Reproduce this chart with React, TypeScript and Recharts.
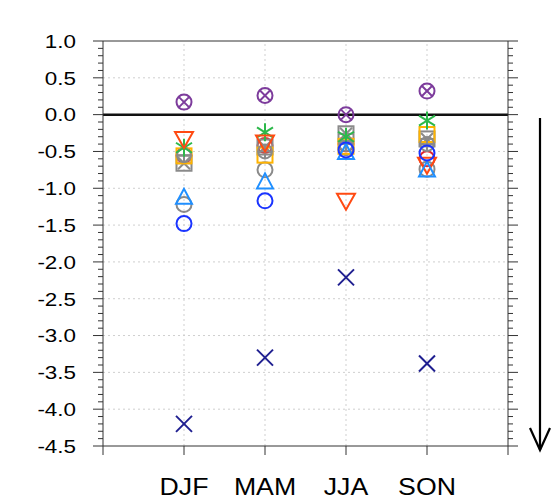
import React from "react";
import { ScatterChart, Scatter, XAxis, YAxis, ReferenceLine } from "recharts";

const seasons = ["DJF", "MAM", "JJA", "SON"];
const xTicks = [0, 1, 2, 3, 4, 5];
const yTicks = Array.from({ length: 56 }, (_, i) => Math.round((-4.5 + i * 0.1) * 10) / 10);
const gridY = [-4.0, -3.5, -3.0, -2.5, -2.0, -1.5, -1.0, -0.5, 0.5];
const gridX = [1, 2, 3, 4];

// values per season: DJF, MAM, JJA, SON
const redCircle = [-0.55, -0.42, -0.4, -0.6];
const graySquare = [-0.66, -0.44, -0.26, -0.33];
const grayCircle = [-1.22, -0.75, -0.45, -0.74];
const orangeSquare = [-0.56, -0.55, -0.43, -0.27];
const grayPlus = [-0.55, -0.5, -0.4, -0.4];
const greenStar = [-0.45, -0.24, -0.3, -0.08];
const triDown = [-0.33, -0.38, -1.17, -0.68];
const triUp = [-1.13, -0.92, -0.52, -0.76];
const blueCircle = [-1.48, -1.17, -0.48, -0.52];
const navyCross = [-4.2, -3.3, -2.21, -3.38];
const purpleCircleX = [0.17, 0.26, 0.0, 0.32];

const FONT = "'Liberation Sans', Arial, sans-serif";

const toPoints = (vals: number[]) => vals.map((v, i) => ({ x: i + 1, y: v }));

const isMajor = (v: number) => Math.abs(v * 2 - Math.round(v * 2)) < 1e-6;

const LeftTick = (props: any) => {
  const { x, y, payload } = props;
  const v = payload.value;
  const major = isMajor(v);
  return (
    <g>
      <line x1={x} x2={x - (major ? 10 : 5)} y1={y} y2={y} stroke="#333" strokeWidth={1} />
      {major && (
        <text
          transform={`translate(${x - 27},${y}) scale(1.18,1)`}
          textAnchor="end"
          dominantBaseline="central"
          fontSize={19}
          fontFamily={FONT}
          fill="#000"
        >
          {v.toFixed(1)}
        </text>
      )}
    </g>
  );
};

const RightTick = (props: any) => {
  const { x, y, payload } = props;
  const major = isMajor(payload.value);
  return <line x1={x} x2={x + (major ? 10 : 5)} y1={y} y2={y} stroke="#333" strokeWidth={1} />;
};

const BottomTick = (props: any) => {
  const { x, y, payload } = props;
  const label = seasons[payload.value - 1] ?? "";
  return (
    <g>
      <line x1={x} x2={x} y1={y} y2={y + 9} stroke="#333" strokeWidth={1} />
      <text
        transform={`translate(${x},${y + 49}) scale(1.16,1)`}
        textAnchor="middle"
        fontSize={23}
        fontFamily={FONT}
        fill="#000"
      >
        {label}
      </text>
    </g>
  );
};

const circle = (color: string) => (p: any) => (
  <circle cx={p.cx} cy={p.cy} r={7.5} fill="none" stroke={color} strokeWidth={2} />
);

const circleX = (color: string) => (p: any) => (
  <g stroke={color} strokeWidth={2} fill="none">
    <circle cx={p.cx} cy={p.cy} r={7.5} />
    <line x1={p.cx - 5} y1={p.cy - 5} x2={p.cx + 5} y2={p.cy + 5} />
    <line x1={p.cx - 5} y1={p.cy + 5} x2={p.cx + 5} y2={p.cy - 5} />
  </g>
);

const circlePlus = (color: string) => (p: any) => (
  <g stroke={color} strokeWidth={2} fill="none">
    <circle cx={p.cx} cy={p.cy} r={7} />
    <line x1={p.cx - 7} y1={p.cy} x2={p.cx + 7} y2={p.cy} />
    <line x1={p.cx} y1={p.cy - 7} x2={p.cx} y2={p.cy + 7} />
  </g>
);

const square = (color: string) => (p: any) => (
  <rect x={p.cx - 7.5} y={p.cy - 7.5} width={15} height={15} fill="none" stroke={color} strokeWidth={2} />
);

const squareX = (color: string) => (p: any) => (
  <g stroke={color} strokeWidth={2} fill="none">
    <rect x={p.cx - 7.5} y={p.cy - 7.5} width={15} height={15} />
    <line x1={p.cx - 7.5} y1={p.cy} x2={p.cx + 7.5} y2={p.cy} />
    <line x1={p.cx - 6} y1={p.cy - 6} x2={p.cx + 6} y2={p.cy + 6} />
    <line x1={p.cx - 6} y1={p.cy + 6} x2={p.cx + 6} y2={p.cy - 6} />
  </g>
);

const triangleUp = (color: string) => (p: any) => (
  <polygon
    points={`${p.cx},${p.cy - 9} ${p.cx - 8},${p.cy + 6} ${p.cx + 8},${p.cy + 6}`}
    fill="none"
    stroke={color}
    strokeWidth={2}
    strokeLinejoin="miter"
  />
);

const triangleDown = (color: string) => (p: any) => (
  <polygon
    points={`${p.cx},${p.cy + 9} ${p.cx - 9},${p.cy - 7} ${p.cx + 9},${p.cy - 7}`}
    fill="none"
    stroke={color}
    strokeWidth={2}
  />
);

const cross = (color: string) => (p: any) => (
  <g stroke={color} strokeWidth={2}>
    <line x1={p.cx - 8} y1={p.cy - 8} x2={p.cx + 8} y2={p.cy + 8} />
    <line x1={p.cx - 8} y1={p.cy + 8} x2={p.cx + 8} y2={p.cy - 8} />
  </g>
);

const asterisk = (color: string) => (p: any) => (
  <g stroke={color} strokeWidth={2}>
    <line x1={p.cx} y1={p.cy - 9} x2={p.cx} y2={p.cy + 9} />
    <line x1={p.cx - 8} y1={p.cy - 5} x2={p.cx + 8} y2={p.cy + 5} />
    <line x1={p.cx - 8} y1={p.cy + 5} x2={p.cx + 8} y2={p.cy - 5} />
  </g>
);

const series = [
  { name: "red", vals: redCircle, shape: circle("#e3262b") },
  { name: "graySq", vals: graySquare, shape: squareX("#8a8a8a") },
  { name: "grayCirc", vals: grayCircle, shape: circle("#8a8a8a") },
  { name: "orangeSq", vals: orangeSquare, shape: square("#ffb300") },
  { name: "grayPlus", vals: grayPlus, shape: circlePlus("#8a8a8a") },
  { name: "green", vals: greenStar, shape: asterisk("#2cb84a") },
  { name: "triDown", vals: triDown, shape: triangleDown("#ff4a12") },
  { name: "triUp", vals: triUp, shape: triangleUp("#1f8fff") },
  { name: "blue", vals: blueCircle, shape: circle("#1a34ff") },
  { name: "navy", vals: navyCross, shape: cross("#1f1f90") },
  { name: "purple", vals: purpleCircleX, shape: circleX("#7d3c9c") },
];

export default function App() {
  return (
    <div style={{ position: "absolute", left: 0, top: 0, width: 557, height: 502, background: "#fff" }}>
      <ScatterChart width={557} height={502} margin={{ top: 41, right: 0, bottom: 0, left: 0 }}>
        <XAxis
          type="number"
          dataKey="x"
          domain={[0, 5]}
          ticks={xTicks}
          interval={0}
          height={56}
          tick={<BottomTick />}
          tickLine={false}
          tickSize={0}
          tickMargin={0}
          axisLine={{ stroke: "#333", strokeWidth: 1 }}
          allowDataOverflow
        />
        <YAxis
          type="number"
          dataKey="y"
          domain={[-4.5, 1]}
          ticks={yTicks}
          interval={0}
          width={103}
          tick={<LeftTick />}
          tickLine={false}
          tickSize={0}
          tickMargin={0}
          axisLine={{ stroke: "#333", strokeWidth: 1 }}
          allowDataOverflow
        />
        <YAxis
          yAxisId="r"
          orientation="right"
          type="number"
          domain={[-4.5, 1]}
          ticks={yTicks}
          interval={0}
          width={49}
          tick={<RightTick />}
          tickLine={false}
          tickSize={0}
          tickMargin={0}
          axisLine={{ stroke: "#333", strokeWidth: 1 }}
          allowDataOverflow
        />
        {gridY.map((v) => (
          <ReferenceLine key={`gy${v}`} y={v} stroke="#cfcfcf" strokeDasharray="2 3" />
        ))}
        {gridX.map((v) => (
          <ReferenceLine key={`gx${v}`} x={v} stroke="#cfcfcf" strokeDasharray="2 3" />
        ))}
        <ReferenceLine y={1} stroke="#333" strokeWidth={1} />
        <ReferenceLine y={0} stroke="#111" strokeWidth={2.5} />
        {series.map((s) => (
          <Scatter
            key={s.name}
            name={s.name}
            data={toPoints(s.vals)}
            shape={s.shape}
            isAnimationActive={false}
          />
        ))}
      </ScatterChart>
      <svg width={557} height={502} style={{ position: "absolute", left: 0, top: 0, pointerEvents: "none" }}>
        <g stroke="#000" strokeWidth={2.2} fill="none">
          <line x1={540} y1={118} x2={540} y2={450} />
          <polyline points="530,428 540,450 550,428" />
        </g>
      </svg>
    </div>
  );
}
